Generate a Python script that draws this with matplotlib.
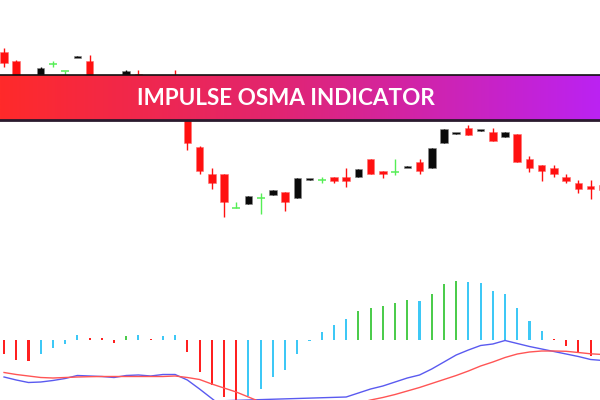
import numpy as np
import matplotlib
matplotlib.use("Agg")
import matplotlib.pyplot as plt
from matplotlib.colors import LinearSegmentedColormap

# ---- price candles (arbitrary price units) ---------------------------------
opens = [198, 189, 162, 165, 185.7, 179.3, 193, 189, 160, 150,
         165, 176.5, 170, 155, 170, 145, 103, 76, 76, 42.3,
         46, 51.7, 55, 58, 52, 70.5, 69.7, 72.7, 72.7, 73.3,
         91, 79, 78.3, 82.7, 87.7, 82.3, 106.7, 116.2, 121.7, 119.5,
         118.3, 113, 115.7, 91, 85, 81.7, 72.7, 66.7, 64, 65]
highs = [202, 190, 173, 183, 189, 179.3, 194, 195, 162, 162,
         180, 180, 172, 165, 180, 150, 104, 82, 76, 48.3,
         54, 57.3, 60, 58, 72, 71.5, 72.7, 72.7, 81.7, 81,
         91, 79, 90.7, 83.7, 90.7, 102.3, 120.7, 117.2, 125, 120.5,
         121.7, 117.7, 115.7, 94.3, 85, 85, 76, 70, 70, 68]
lows = [183, 160, 158, 162, 183, 170, 193, 155, 145, 147,
        162, 164, 155, 152, 146, 100, 76, 61, 33, 42.3,
        46, 36, 55, 39, 52, 70.5, 66.7, 66.7, 63.3, 73.3,
        75.7, 72.3, 75, 82.7, 75.7, 82.3, 106.7, 116.2, 115.3, 119.5,
        109.3, 113, 87.7, 78.3, 69.3, 72.7, 66.7, 57.3, 51, 57]
closes = [187, 165, 170, 182, 185.7, 179.3, 194, 160, 150, 158,
          179, 168, 158, 162, 150, 107, 79, 67, 48, 42.3,
          54, 51.7, 60, 48, 72, 71.5, 69.7, 69.3, 69.3, 81,
          75.7, 75.7, 78.3, 83.7, 79, 102.3, 120.7, 117.2, 115.3, 120.5,
          109.3, 117.7, 87.7, 81.7, 79, 75.7, 69.3, 60.7, 60.7, 60]

# ---- OsMA histogram + the two averages -------------------------------------
osma = [-14.5, -20, -21, -14.5, -8, -4, 5, 1.5, 1.5, -3,
        4, 5, 0.7, 4, 5, -12, -32, -45, -57, -66,
        -56, -49.5, -37, -30.5, -14.5, -1, 8, 15, 21, 29,
        32, 34, 37, 40, 39, 46, 56, 59, 58, 57,
        49, 46, 32, 19, 9, 1, -6, -12, -16, -18]
osma_col = ["r", "r", "r", "b", "b", "b", "b", "r", "r", "r",
            "g", "b", "r", "b", "b", "r", "r", "r", "r", "r",
            "b", "b", "b", "b", "b", "b", "b", "b", "b", "g",
            "g", "g", "g", "g", "b", "g", "g", "g", "b", "b",
            "b", "b", "b", "b", "b", "r", "r", "r", "r", "r"]
fast = [-37.5, -40.5, -43, -42.5, -41, -39, -36, -36.5, -37, -38,
        -36, -35.5, -36.5, -35, -35, -40.5, -49.5, -59, -68.5, -76.5,
        -82.5, -86.5, -87.5, -85.5, -80.5, -73.5, -66.5, -61.5, -57.5, -53.5,
        -49.5, -46.5, -42.5, -38.5, -35.5, -29.5, -22.5, -15.5, -10.5, -6,
        -4.5, -1, -4, -7, -9.5, -12, -14.5, -17, -20, -21]
slow = [-33, -35, -36.5, -38, -38.5, -38, -37.5, -37.2, -37, -37,
        -37, -37, -37, -37, -36.5, -38, -40, -44.5, -48.5, -52.5,
        -57.5, -62.5, -66.5, -69.5, -71.5, -72.5, -71.5, -69.5, -66.5, -63.5,
        -60.5, -58, -55, -51.5, -48, -44, -40, -36, -31.5, -26.5,
        -22.5, -18, -14.5, -12.5, -11.5, -11.5, -11.8, -13, -14.3, -15]

TITLE = "IMPULSE OSMA INDICATOR"
RED = "#ff1010"
BLACK = "#0a0a0a"
DOJI = "#55ee55"
HIST = {"r": "#ff2020", "b": "#3ec8f6", "g": "#4ccc4c"}

fig = plt.figure(figsize=(6, 4), dpi=100)
fig.patch.set_facecolor("white")
idx = np.arange(len(opens))
XLIM = (-0.33, 48.77)

# ---- top panel: candles ----------------------------------------------------
ax1 = fig.add_axes([0, 0, 1, 1])
ax1.set_xlim(*XLIM); ax1.set_ylim(-150, 250); ax1.axis("off")
for i, o, h, l, c in zip(idx, opens, highs, lows, closes):
    if c == o:
        col = DOJI
        ax1.vlines(i, l, h, color=col, lw=1)
        ax1.hlines(o, i - 0.33, i + 0.33, color=col, lw=1.1)
        continue
    col = RED if c < o else BLACK
    ax1.vlines(i, l, h, color=col, lw=1)
    lo, hi = min(o, c), max(o, c)
    if hi - lo < 2:
        mid = (hi + lo) / 2
        lo, hi = mid - 1, mid + 1
    ax1.bar(i, hi - lo, bottom=lo, width=0.62, color=col,
            edgecolor="#888888" if col == BLACK else "#ff7070", linewidth=0.4)

# ---- bottom panel: OsMA ----------------------------------------------------
ax2 = fig.add_axes([0, 0, 1, 130 / 400])
ax2.set_xlim(*XLIM); ax2.set_ylim(-60.5, 69.5); ax2.axis("off")
ax2.bar(idx, osma, width=0.17, color=[HIST[k] for k in osma_col], linewidth=0)
ax2.plot(idx, fast, color="#5a5af0", lw=1)
ax2.plot(idx, slow, color="#ff5555", lw=1)

# ---- title banner ----------------------------------------------------------
bax = fig.add_axes([0, 280 / 400, 1, 45 / 400])
cmap = LinearSegmentedColormap.from_list(
    "banner", [(0, "#ff2a2a"), (0.45, "#e2256e"), (1, "#bb22f2")])
bax.imshow(np.linspace(0, 1, 256)[None, :], aspect="auto", cmap=cmap,
           extent=[0, 1, 0, 1])
bax.set_xlim(0, 1); bax.set_ylim(0, 1); bax.axis("off")
bax.axhline(1, color="#111111", lw=1.2, clip_on=False)
bax.axhline(0, color="#2a1a2e", lw=2, clip_on=False)
bax.text(0.477, 0.335, TITLE, color="white", fontsize=16.2, fontweight="bold",
         family="Lato", ha="center", va="baseline")

fig.savefig("out.png", dpi=100, facecolor="white")
